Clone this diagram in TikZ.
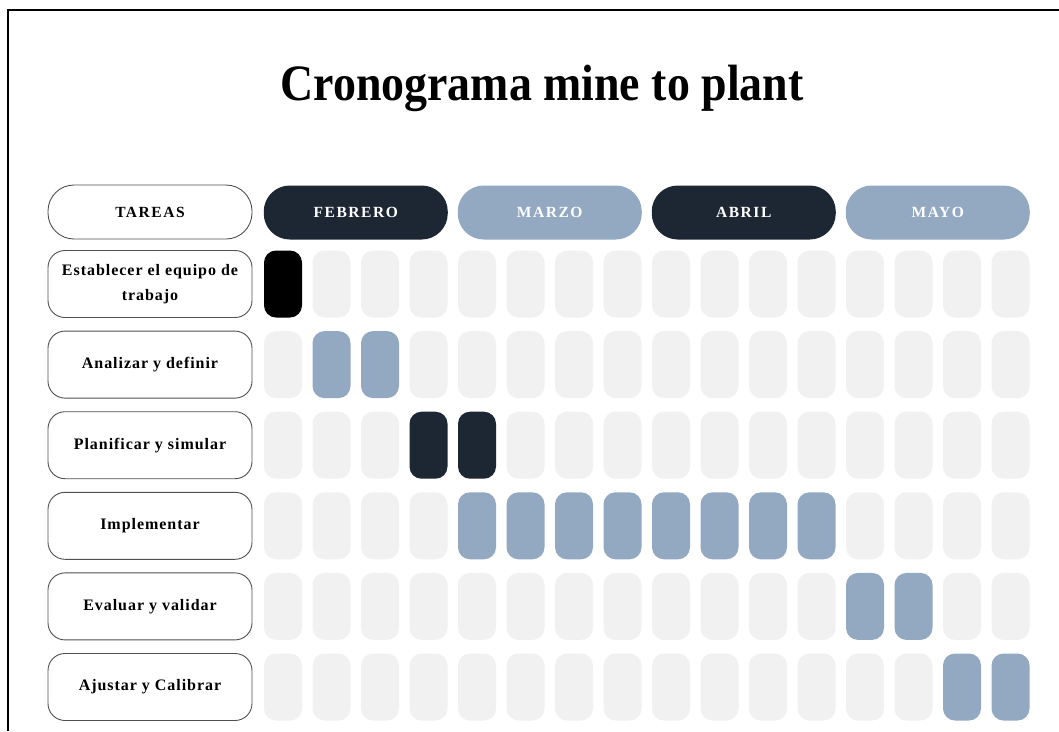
\documentclass[tikz,border=0pt]{standalone}
\usepackage{fontspec}
\setmainfont{Liberation Serif}
\usepackage{graphicx}
\definecolor{navy}{HTML}{1D2734}
\definecolor{steel}{HTML}{93A8C1}
\definecolor{faint}{HTML}{F1F1F1}
\definecolor{edge}{HTML}{505050}
\begin{document}
\begin{tikzpicture}[x=1pt,y=-1pt,
  cell/.style={rectangle, rounded corners=12pt, minimum width=38pt, minimum height=67pt, inner sep=0pt},
  taskbox/.style={draw=edge, line width=0.9pt, rounded corners=17pt, fill=white, minimum width=204pt, minimum height=67pt, align=center, inner sep=2pt,
    font={\fontsize{16}{25}\selectfont\bfseries\addfontfeatures{LetterSpace=6}}},
  headbox/.style={rounded corners=26pt, minimum width=184pt, minimum height=54pt, inner sep=0pt,
    font={\fontsize{15.5}{20}\selectfont\bfseries\addfontfeatures{LetterSpace=10}}},
  monthdark/.style={headbox, fill=navy, text=white},
  monthlight/.style={headbox, fill=steel, text=white},
]
\useasboundingbox (0,0) rectangle (1059,731);
\fill[white] (0,0) rectangle (1059,731);
\draw[line width=2pt] (8,731) -- (8,10) -- (1059,10);

\node[anchor=base] (title) at (542,100) {\fontsize{51}{60}\selectfont\bfseries\scalebox{0.9}[1]{Cronograma mine to plant}};

% header row
\node[headbox, draw=edge, line width=0.9pt, fill=white, minimum width=204pt] (tareas) at (150,212) {TAREAS};
\node[monthdark]  (feb) at (355.75,212.5) {FEBRERO};
\node[monthlight] (mar) at (549.75,212.5) {MARZO};
\node[monthdark]  (abr) at (743.75,212.5) {ABRIL};
\node[monthlight] (may) at (937.75,212.5) {MAYO};

% cells
\foreach \r/\y/\s/\e/\col in {1/284/1/1/black, 2/364.6/2/3/steel, 3/445.2/4/5/navy, 4/525.8/5/12/steel, 5/606.4/13/14/steel, 6/687/15/16/steel}{
  \foreach \c in {1,...,16}{
    \pgfmathtruncatemacro\on{(\c>=\s)&&(\c<=\e)}
    \ifnum\on=1 \def\fc{\col}\else\def\fc{faint}\fi
    \node[cell, fill=\fc] (c\r-\c) at ({283+48.5*(\c-1)},\y) {};
  }
}

% tasks
\node[taskbox] (t1) at (150,284)   {Establecer el equipo de\\trabajo};
\node[taskbox] (t2) at (150,364.6) {Analizar y definir};
\node[taskbox] (t3) at (150,445.2) {Planificar y simular};
\node[taskbox] (t4) at (150,525.8) {Implementar};
\node[taskbox] (t5) at (150,606.4) {Evaluar y validar};
\node[taskbox] (t6) at (150,687)   {Ajustar y Calibrar};
\end{tikzpicture}
\end{document}
